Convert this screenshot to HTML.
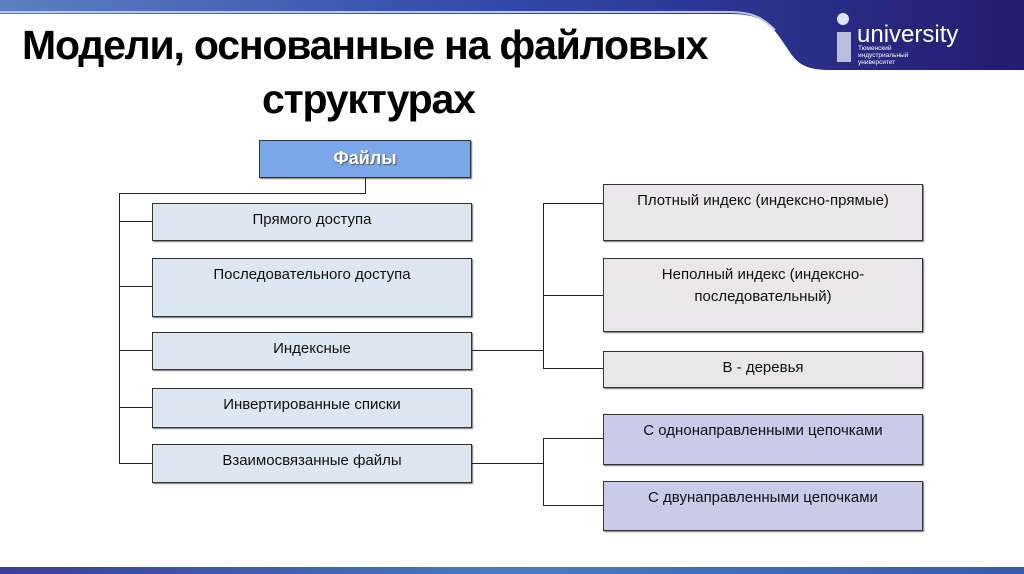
<!DOCTYPE html>
<html><head><meta charset="utf-8"><style>
body{margin:0;width:1024px;height:574px;overflow:hidden;background:#fff;position:relative;font-family:"Liberation Sans",sans-serif}
.t{position:absolute;font-weight:bold;font-size:41px;letter-spacing:-1.2px;color:#000;white-space:nowrap}
.b{position:absolute;box-sizing:border-box;border:1px solid #333;box-shadow:1px 1px 1px #777;font-size:15px;text-align:center;color:#111;line-height:22px;padding-top:5px}
.l{background:#dde7f2}.g{background:#e9e7eb}.p{background:#c9cbe8}
.h{position:absolute;background:#222;}
</style></head><body>
<svg style="position:absolute;left:0;top:0" width="1024" height="80">
<defs><linearGradient id="g1" x1="0" x2="1"><stop offset="0" stop-color="#5d7fc0"/><stop offset="0.5" stop-color="#3048a8"/><stop offset="1" stop-color="#241c70"/></linearGradient></defs>
<path d="M0 0H1024V70H830C800 70 795 60 785 45C770 22 760 14 730 14H0Z" fill="url(#g1)"/>
<path d="M0 12H730C755 12 765 20 775 30" stroke="#b9c6e3" stroke-width="2" fill="none"/>
<g fill="#dfe4f4"><rect x="837" y="32" width="14" height="30" opacity="0.8"/><circle cx="843" cy="19" r="6"/></g>
<text x="857" y="42" font-family="Liberation Sans" font-size="24" fill="#fff">university</text>
<text x="858" y="50" font-family="Liberation Sans" font-size="6.5" fill="#fff">Тюменский</text>
<text x="858" y="57" font-family="Liberation Sans" font-size="6.5" fill="#fff">индустриальный</text>
<text x="858" y="64" font-family="Liberation Sans" font-size="6.5" fill="#fff">университет</text>
</svg>
<div class="t" style="left:22px;top:22px">Модели, основанные на файловых</div>
<div class="t" style="left:262px;top:76px">структурах</div>
<div class="b" style="left:259px;top:140px;width:212px;height:38px;background:#7ba6e8;color:#fff;font-weight:bold;font-size:18px;padding-top:6px;text-shadow:1px 1px 1px #555">Файлы</div>
<div class="h" style="left:365px;top:178px;width:1px;height:16px"></div>
<div class="h" style="left:119px;top:193px;width:247px;height:1px"></div>
<div class="h" style="left:119px;top:193px;width:1px;height:271px"></div>
<div class="h" style="left:119px;top:221px;width:33px;height:1px"></div>
<div class="h" style="left:119px;top:286px;width:33px;height:1px"></div>
<div class="h" style="left:119px;top:350px;width:33px;height:1px"></div>
<div class="h" style="left:119px;top:407px;width:33px;height:1px"></div>
<div class="h" style="left:119px;top:463px;width:33px;height:1px"></div>
<div class="b l" style="left:152px;top:203px;width:320px;height:38px">Прямого доступа</div>
<div class="b l" style="left:152px;top:258px;width:320px;height:59px">Последовательного доступа</div>
<div class="b l" style="left:152px;top:332px;width:320px;height:38px">Индексные</div>
<div class="b l" style="left:152px;top:388px;width:320px;height:40px">Инвертированные списки</div>
<div class="b l" style="left:152px;top:444px;width:320px;height:39px">Взаимосвязанные файлы</div>
<div class="h" style="left:472px;top:350px;width:71px;height:1px"></div>
<div class="h" style="left:543px;top:203px;width:1px;height:166px"></div>
<div class="h" style="left:543px;top:203px;width:60px;height:1px"></div>
<div class="h" style="left:543px;top:295px;width:60px;height:1px"></div>
<div class="h" style="left:543px;top:368px;width:60px;height:1px"></div>
<div class="h" style="left:472px;top:463px;width:71px;height:1px"></div>
<div class="h" style="left:543px;top:438px;width:1px;height:68px"></div>
<div class="h" style="left:543px;top:438px;width:60px;height:1px"></div>
<div class="h" style="left:543px;top:505px;width:60px;height:1px"></div>
<div class="b g" style="left:603px;top:184px;width:320px;height:57px">Плотный индекс (индексно-прямые)</div>
<div class="b g" style="left:603px;top:258px;width:320px;height:74px">Неполный индекс (индексно-<br>последовательный)</div>
<div class="b g" style="left:603px;top:351px;width:320px;height:37px">В - деревья</div>
<div class="b p" style="left:603px;top:414px;width:320px;height:51px">С однонаправленными цепочками</div>
<div class="b p" style="left:603px;top:481px;width:320px;height:50px">С двунаправленными цепочками</div>
<div style="position:absolute;left:0;top:567px;width:1024px;height:7px;background:linear-gradient(90deg,#3a3f95,#4a7bc0 50%,#3a5aa8)"></div>
</body></html>
